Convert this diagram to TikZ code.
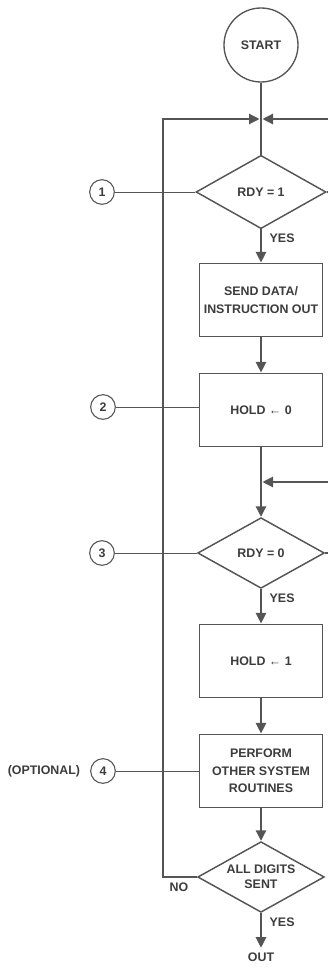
\documentclass[tikz,border=0pt]{standalone}
\usepackage{fontspec}
\setmainfont{Liberation Sans}
\definecolor{LineGray}{RGB}{85,85,85}
\definecolor{TextGray}{RGB}{60,60,60}
\usetikzlibrary{arrows.meta,positioning,shapes.geometric}

\begin{document}
\begin{tikzpicture}[x=0.75pt,y=-0.75pt,
  font=\fontsize{9.3}{13}\selectfont\bfseries, text=TextGray,
  flow/.style={LineGray,line width=1.9pt},
  arr/.style={flow,-{Triangle[length=8pt,width=7.5pt]}},
  link/.style={LineGray,line width=0.7pt},
  terminal/.style={circle,draw=LineGray,line width=1pt,minimum size=55.5pt,inner sep=0pt},
  box/.style={rectangle,draw=LineGray,line width=1.1pt,minimum width=92pt,minimum height=55pt,align=center,inner sep=1pt},
  test/.style={diamond,aspect=1.8,draw=LineGray,line width=1.1pt,minimum width=95pt,minimum height=53pt,inner sep=0pt,align=center,font=\fontsize{9.3}{11.3}\selectfont\bfseries},
  tag/.style={circle,draw=LineGray,line width=0.8pt,minimum size=18.5pt,inner sep=0pt}]
\useasboundingbox (0,0) rectangle (328,974);
% Main column
\node[terminal] (start) at (261,45) {START};
\node[test,minimum width=97.5pt,minimum height=55pt] (rdyone) at (261,192) {RDY = 1};
\node[box] (send) at (261,300) {SEND DATA/\\INSTRUCTION OUT};
\node[box] (holdzero) at (261,410) {HOLD ← 0};
\node[test] (rdyzero) at (261,553) {RDY = 0};
\node[box] (holdone) at (261,661) {HOLD ← 1};
\node[box] (perform) at (261,771) {PERFORM\\OTHER SYSTEM\\ROUTINES};
\node[test] (alldone) at (261,877) {ALL DIGITS\\SENT};
\node (out) at (261,957) {OUT};
% Reference tags
\node[tag] (tagone) at (102,192) {1};
\node[tag] (tagtwo) at (103,407) {2};
\node[tag] (tagthree) at (102,553) {3};
\node[tag] (tagfour) at (103,771) {4};
\node[left=4pt of tagfour] (optional) {(OPTIONAL)};
% Junctions
\coordinate (jointop) at (261,119);
\coordinate (joinmid) at (261,482);
\coordinate (looptop) at (163,119);
\coordinate (feedtop) at (328,119);
\coordinate (feedmid) at (328,482);
\coordinate (exitone) at (328,192);
\coordinate (exitzero) at (328,553);
% Tag links
\draw[link] (tagone) -- (rdyone.west);
\draw[link] (tagtwo) -- (tagtwo -| holdzero.west);
\draw[link] (tagthree) -- (rdyzero.west);
\draw[link] (tagfour) -- (perform.west);
% Flow
\draw[flow] (start) -- (jointop) -- (rdyone.north);
\draw[arr,shorten >=1pt] (feedtop) -- (jointop);
\draw[flow] (rdyone.east) -- (exitone);
\draw[arr] (rdyone.south) -- (send.north);
\draw[arr] (send.south) -- (holdzero.north);
\draw[flow] (holdzero.south) -- (joinmid);
\draw[arr,shorten >=1pt] (feedmid) -- (joinmid);
\draw[arr] (joinmid) -- (rdyzero.north);
\draw[flow] (rdyzero.east) -- (exitzero);
\draw[arr] (rdyzero.south) -- (holdone.north);
\draw[arr] (holdone.south) -- (perform.north);
\draw[arr] (perform.south) -- (alldone.north);
\draw[arr] (alldone.south) -- (out.north);
% Loop back
\draw[arr,shorten >=1pt] (alldone.west) -| (looptop) -- (jointop);
% Branch labels
\node[below right=0pt and 3pt of rdyone.south] (yesone) {YES};
\node[below right=0pt and 3pt of rdyzero.south] (yeszero) {YES};
\node[below right=0pt and 3pt of alldone.south] (yesdone) {YES};
\node[below left=1pt and 3pt of alldone.west] (nodone) {NO};
\end{tikzpicture}
\end{document}
